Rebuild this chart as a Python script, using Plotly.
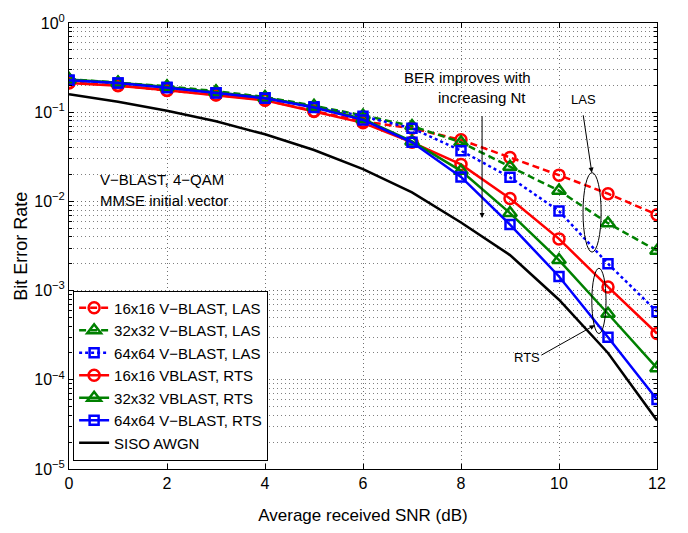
import math
import plotly.graph_objects as go

# SNR axis (dB)
snr_db = [0, 1, 2, 3, 4, 5, 6, 7, 8, 9, 10, 11, 12]

# Bit error rates per detector / system size
ber_las_16 = [0.215, 0.200, 0.175, 0.157, 0.137, 0.103, 0.079, 0.066, 0.049, 0.031, 0.0197, 0.0122, 0.0071]
ber_las_32 = [0.235, 0.215, 0.195, 0.172, 0.148, 0.118, 0.092, 0.070, 0.046, 0.0245, 0.0132, 0.0057, 0.0028]
ber_las_64 = [0.228, 0.212, 0.190, 0.165, 0.145, 0.115, 0.090, 0.066, 0.037, 0.0186, 0.0078, 0.0020, 0.00058]
ber_rts_16 = [0.212, 0.198, 0.176, 0.156, 0.136, 0.102, 0.076, 0.046, 0.026, 0.0108, 0.0038, 0.0011, 0.00033]
ber_rts_32 = [0.232, 0.214, 0.192, 0.168, 0.145, 0.115, 0.084, 0.047, 0.022, 0.0074, 0.0022, 0.00055, 0.000135]
ber_rts_64 = [0.228, 0.212, 0.188, 0.164, 0.143, 0.113, 0.082, 0.046, 0.0188, 0.0055, 0.00144, 0.00030, 0.000060]
ber_siso = [0.159, 0.131, 0.104, 0.079, 0.0565, 0.0377, 0.023, 0.0126, 0.0058, 0.0025, 0.00079, 0.00020, 0.000035]

x_ticks = [0, 2, 4, 6, 8, 10, 12]
y_exponents = [0, -1, -2, -3, -4, -5]

FONT = "Liberation Sans, Arial, Helvetica, sans-serif"
RED, GREEN, BLUE = "#ff0000", "#008000", "#0000ff"
GRID_DASH = "1px,3px"

series = [
    ("16x16 V\u2212BLAST, LAS", ber_las_16, RED, "7px,4px", "circle-open", 11),
    ("32x32 V\u2212BLAST, LAS", ber_las_32, GREEN, "7px,4px", "triangle-up-open", 12),
    ("64x64 V\u2212BLAST, LAS", ber_las_64, BLUE, "3px,3px", "square-open", 9),
    ("16x16 VBLAST, RTS", ber_rts_16, RED, "solid", "circle-open", 11),
    ("32x32 VBLAST, RTS", ber_rts_32, GREEN, "solid", "triangle-up-open", 12),
    ("64x64 V\u2212BLAST, RTS", ber_rts_64, BLUE, "solid", "square-open", 9),
]

fig = go.Figure()
for name, ys, color, dash, symbol, msize in series:
    fig.add_trace(go.Scatter(
        x=snr_db, y=ys, name=name, mode="lines+markers",
        line=dict(color=color, width=2.5, dash=dash),
        marker=dict(symbol=symbol, size=msize, color=color,
                    line=dict(color=color, width=2.5)),
    ))
fig.add_trace(go.Scatter(
    x=snr_db, y=ber_siso, name="SISO AWGN", mode="lines",
    line=dict(color="black", width=2.5),
))

minor_vals = [k * 10.0 ** e for e in range(-5, 0) for k in range(2, 10)]

fig.update_layout(
    width=688, height=533,
    margin=dict(l=69, r=31, t=15, b=56),
    paper_bgcolor="white", plot_bgcolor="white",
    font=dict(family=FONT, size=15, color="black"),
    showlegend=True,
    legend=dict(
        x=0.007, y=0.4, xanchor="left", yanchor="top",
        bgcolor="white", bordercolor="black", borderwidth=1,
        font=dict(family=FONT, size=15, color="black"),
        tracegroupgap=0, itemwidth=30,
    ),
    xaxis=dict(
        range=[0, 12], tickmode="array", tickvals=x_ticks,
        ticktext=[str(v) for v in x_ticks],
        ticks="inside", ticklen=5, tickcolor="black",
        showline=True, linecolor="black", linewidth=1, mirror="ticks",
        showgrid=True, gridcolor="#707070", griddash=GRID_DASH, gridwidth=1,
        zeroline=False,
        tickfont=dict(family=FONT, size=16),
        title=dict(text="Average received SNR (dB)", font=dict(family=FONT, size=17), standoff=17),
    ),
    yaxis=dict(
        type="log", range=[-5, 0], tickmode="array",
        tickvals=[10.0 ** e for e in y_exponents],
        ticktext=["10<sup>%s</sup>" % (str(e).replace("-", "\u2212")) for e in y_exponents],
        ticks="inside", ticklen=5, tickcolor="black",
        showline=True, linecolor="black", linewidth=1, mirror="ticks",
        showgrid=True, gridcolor="#707070", griddash=GRID_DASH, gridwidth=1,
        zeroline=False,
        minor=dict(tickmode="array", tickvals=minor_vals, ticks="inside", ticklen=3,
                   tickcolor="black", showgrid=True, gridcolor="#808080",
                   griddash=GRID_DASH, gridwidth=1),
        tickfont=dict(family=FONT, size=16),
    ),
)

# Y-axis title
fig.add_annotation(text="Bit Error Rate", xref="paper", yref="paper",
                   x=-0.082, y=0.5, textangle=-90, showarrow=False,
                   xanchor="center", yanchor="middle",
                   font=dict(family=FONT, size=18, color="black"))

# Text annotations: (text, x, y, size, anchor)
notes = [
    ("V\u2212BLAST, 4\u2212QAM", 0.59, 0.0178, 15, "left"),
    ("MMSE initial vector", 0.59, 0.0103, 15, "left"),
    ("BER improves with", 8.14, 0.245, 15, "center"),
    ("increasing Nt", 8.43, 0.145, 15, "center"),
    ("LAS", 10.49, 0.139, 13, "center"),
    ("RTS", 9.35, 1.76e-4, 13, "center"),
]
for text, xv, yv, fs, anchor in notes:
    fig.add_annotation(x=xv, y=math.log10(yv), text=text, showarrow=False,
                       xanchor=anchor, yanchor="middle",
                       font=dict(family=FONT, size=fs, color="black"))

# Arrows pointing at the curve groups
arrows = [
    ((8.43, 0.094), (8.43, 0.0065)),
    ((10.49, 0.096), (10.67, 0.021)),
    ((9.61, 1.85e-4), (10.73, 4.1e-4)),
]
for (tx, ty), (hx, hy) in arrows:
    fig.add_annotation(x=hx, y=math.log10(hy), ax=tx, ay=math.log10(ty),
                       axref="x", ayref="y", xref="x", yref="y", text="",
                       showarrow=True, arrowhead=2, arrowsize=1, arrowwidth=1,
                       arrowcolor="black")

# Ellipses grouping the LAS and RTS curves at 11 dB
ellipses = [
    (10.49, 10.86, 0.0027, 0.021),
    (10.67, 10.96, 3.3e-4, 0.00178),
]
for x0, x1, ylo, yhi in ellipses:
    fig.add_shape(type="circle", xref="x", yref="y",
                  x0=x0, x1=x1, y0=ylo, y1=yhi,
                  line=dict(color="black", width=1))

fig.write_html("out.html")
